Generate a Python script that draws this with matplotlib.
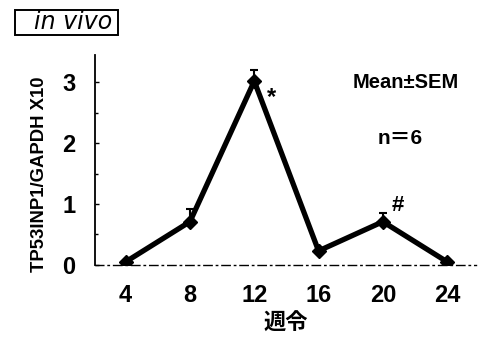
import matplotlib
matplotlib.use("Agg")
import matplotlib.pyplot as plt
from matplotlib.ticker import MultipleLocator
from matplotlib.patches import Rectangle

weeks = [4, 8, 12, 16, 20, 24]
values = [0.05, 0.71, 3.02, 0.23, 0.71, 0.05]
errors = [0.0, 0.21, 0.19, 0.0, 0.15, 0.0]
xticks = [4, 8, 12, 16, 20, 24]
yticks = [0, 1, 2, 3]

lat = ['Liberation Sans', 'DejaVu Sans']
cjk = ['Noto Sans CJK JP', 'DejaVu Sans']

W, H = 478, 337
fig = plt.figure(figsize=(4.78, 3.37), dpi=100)
ax = fig.add_axes([0.199, 0.214, 0.797, 0.623])

ax.errorbar(weeks, values, yerr=[[0] * len(errors), errors], color='black', lw=3.8,
            marker='D', markersize=7, elinewidth=1.5, capsize=3, capthick=1.5,
            zorder=3)

ax.set_xlim(2.1, 25.8)
ax.set_ylim(0, 3.45)
ax.set_xticks(xticks)
ax.set_yticks(yticks)
ax.yaxis.set_minor_locator(MultipleLocator(0.5))

for s in ['top', 'right']:
    ax.spines[s].set_visible(False)
ax.spines['left'].set_linewidth(1.3)
ax.spines['bottom'].set_linewidth(1.0)
ax.spines['bottom'].set_linestyle((0, (6, 3, 1, 3)))

ax.tick_params(axis='y', direction='in', length=3, width=1, pad=14)
ax.tick_params(axis='y', which='minor', direction='in', length=2, width=1)
ax.tick_params(axis='x', length=0, pad=14)

for lab in ax.get_xticklabels() + ax.get_yticklabels():
    lab.set_fontfamily(lat)
    lab.set_fontweight('bold')
    lab.set_fontsize(17)

ax.set_ylabel('TP53INP1/GAPDH X10', family=lat, fontweight='bold',
              fontsize=13.3)
ax.yaxis.set_label_coords(-0.125, 0.43)
ax.set_xlabel('週令', family=cjk, fontweight='bold', fontsize=16, labelpad=3)

ax.text(13.1, 2.75, '*', family=lat, fontweight='bold', fontsize=17,
        ha='center', va='center')
ax.text(20.9, 0.98, '#', family=lat, fontweight='bold', fontsize=16,
        ha='center', va='center')
ax.text(21.45, 3.0, 'Mean±SEM', family=lat, fontweight='bold', fontsize=14.5,
        ha='center', va='center')
ax.text(21.1, 2.08, 'n＝6', family=['Liberation Sans', 'Noto Sans CJK JP'],
        fontweight='bold', fontsize=15, ha='center', va='center')

fig.patches.append(Rectangle((15 / W, 1 - 35 / H), 103 / W, 25 / H,
                             transform=fig.transFigure, fill=False,
                             ec='black', lw=1.4))
fig.text(73 / W, 1 - 22 / H, 'in vivo', fontstyle='italic', fontsize=17,
         family=['DejaVu Sans'], ha='center', va='center')

fig.savefig('out.png', dpi=100)
